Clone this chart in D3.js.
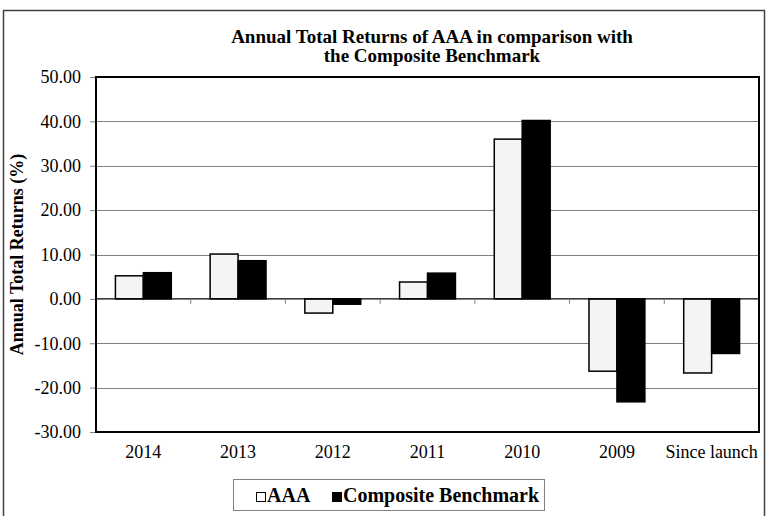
<!DOCTYPE html>
<html>
<head>
<meta charset="utf-8">
<script src="https://cdn.jsdelivr.net/npm/d3@7"></script>
<style>
body { margin: 0; background: #fff; }
svg text { font-family: "Liberation Serif", "Times New Roman", Times, serif !important; }
</style>
</head>
<body>
<div id="chart"></div>
<script>
// chart values
var aCategories = ["2014", "2013", "2012", "2011", "2010", "2009", "Since launch"];
var aSeries = ["AAA", "Composite Benchmark"];
var aAAA = [5.2, 10.1, -3.2, 3.8, 36.0, -16.3, -16.7];
var aComposite = [5.9, 8.6, -1.2, 5.8, 40.2, -23.2, -12.3];
var aYTicks = [-30, -20, -10, 0, 10, 20, 30, 40, 50];

var iWidth = 767;
var iHeight = 516;
var oPlot = { left: 96, right: 759, top: 77, bottom: 432 };
var sFont = "Liberation Serif";

var svg = d3.select("#chart").append("svg")
	.attr("width", iWidth)
	.attr("height", iHeight)
	.attr("font-family", sFont);

// outer frame
svg.append("rect")
	.attr("x", 3.5).attr("y", 10.5)
	.attr("width", 761).attr("height", 520)
	.attr("fill", "#fff")
	.attr("stroke", "#404040")
	.attr("stroke-width", 1.5);

var yScale = d3.scaleLinear().domain([-30, 50]).range([oPlot.bottom, oPlot.top]);
var xScale = d3.scaleBand().domain(aCategories)
	.range([oPlot.left, oPlot.right])
	.paddingInner(0.41).paddingOuter(0.205);
var xSub = d3.scaleBand().domain(aSeries).range([0, xScale.bandwidth()]);

// title
var title = svg.append("text")
	.attr("text-anchor", "middle")
	.attr("font-family", sFont)
	.style("font-size", "19px")
	.style("font-weight", "bold");
title.append("tspan").attr("x", 432).attr("y", 43).text("Annual Total Returns of AAA in comparison with");
title.append("tspan").attr("x", 432).attr("y", 62).text("the Composite Benchmark");

// gridlines
svg.append("g").selectAll("line")
	.data(aYTicks.filter(function(v) { return v != 0 && v != 50 && v != -30; }))
	.enter().append("line")
		.attr("x1", oPlot.left).attr("x2", oPlot.right)
		.attr("y1", function(v) { return Math.round(yScale(v)) + 0.5; })
		.attr("y2", function(v) { return Math.round(yScale(v)) + 0.5; })
		.attr("stroke", "#808080")
		.attr("stroke-width", 1);

// y axis
var yAxis = d3.axisLeft(yScale).tickValues(aYTicks).tickSize(6).tickPadding(9)
	.tickFormat(function(v) { return d3.format(".2f")(v).replace("\u2212", "-"); });
var gY = svg.append("g")
	.attr("transform", "translate(" + oPlot.left + ",0)")
	.call(yAxis)
	.attr("font-family", sFont)
	.attr("font-size", 18);
gY.select(".domain").remove();
gY.selectAll(".tick line").attr("stroke", "#808080");
gY.selectAll(".tick text").attr("fill", "#000");

// y axis title
svg.append("text")
	.attr("transform", "translate(23," + ((oPlot.top + oPlot.bottom) / 2) + ") rotate(-90)")
	.attr("text-anchor", "middle")
	.style("font-size", "18px")
	.style("font-weight", "bold")
	.text("Annual Total Returns (%)");

// bars
var aRows = aCategories.map(function(c, i) {
	return { cat: c, values: [ { s: aSeries[0], v: aAAA[i] }, { s: aSeries[1], v: aComposite[i] } ] };
});

var groups = svg.append("g").selectAll("g")
	.data(aRows)
	.enter().append("g")
		.attr("transform", function(d) { return "translate(" + xScale(d.cat) + ",0)"; });

groups.selectAll("rect")
	.data(function(d) { return d.values; })
	.enter().append("rect")
		.attr("x", function(d) { return xSub(d.s); })
		.attr("width", xSub.bandwidth())
		.attr("y", function(d) { return yScale(Math.max(0, d.v)); })
		.attr("height", function(d) { return Math.abs(yScale(d.v) - yScale(0)); })
		.attr("fill", function(d) { return d.s == "AAA" ? "#f4f4f4" : "#000"; })
		.attr("stroke", "#000")
		.attr("stroke-width", 1.5);

// zero line with category ticks
svg.append("line")
	.attr("x1", oPlot.left).attr("x2", oPlot.right)
	.attr("y1", yScale(0)).attr("y2", yScale(0))
	.attr("stroke", "#000").attr("stroke-width", 1.2);

var step = xScale.step();
svg.append("g").selectAll("line")
	.data(aCategories.slice(1))
	.enter().append("line")
		.attr("x1", function(c) { return xScale(c) - (step - xScale.bandwidth()) / 2; })
		.attr("x2", function(c) { return xScale(c) - (step - xScale.bandwidth()) / 2; })
		.attr("y1", yScale(0)).attr("y2", yScale(0) + 5)
		.attr("stroke", "#808080");

// category labels
svg.append("g").selectAll("text")
	.data(aCategories)
	.enter().append("text")
		.attr("x", function(c) { return xScale(c) + xScale.bandwidth() / 2; })
		.attr("y", 458)
		.attr("text-anchor", "middle")
		.style("font-size", "18px")
		.text(function(c) { return c; });

// plot border
svg.append("rect")
	.attr("x", oPlot.left).attr("y", oPlot.top)
	.attr("width", oPlot.right - oPlot.left).attr("height", oPlot.bottom - oPlot.top)
	.attr("fill", "none")
	.attr("stroke", "#000")
	.attr("stroke-width", 2);

// legend
var legend = svg.append("g");
legend.append("rect")
	.attr("x", 233.5).attr("y", 479.5)
	.attr("width", 311).attr("height", 31)
	.attr("fill", "#fff")
	.attr("stroke", "#808080");

var aLegendX = [256, 332];
aSeries.forEach(function(s, i) {
	legend.append("rect")
		.attr("x", aLegendX[i] + 0.5).attr("y", 492.5)
		.attr("width", 9).attr("height", 9)
		.attr("fill", i == 0 ? "#fff" : "#000")
		.attr("stroke", "#000");
	legend.append("text")
		.attr("x", aLegendX[i] + 11)
		.attr("y", 502)
		.style("font-size", "20px")
		.style("font-weight", "bold")
		.text(s);
});
</script>
</body>
</html>
